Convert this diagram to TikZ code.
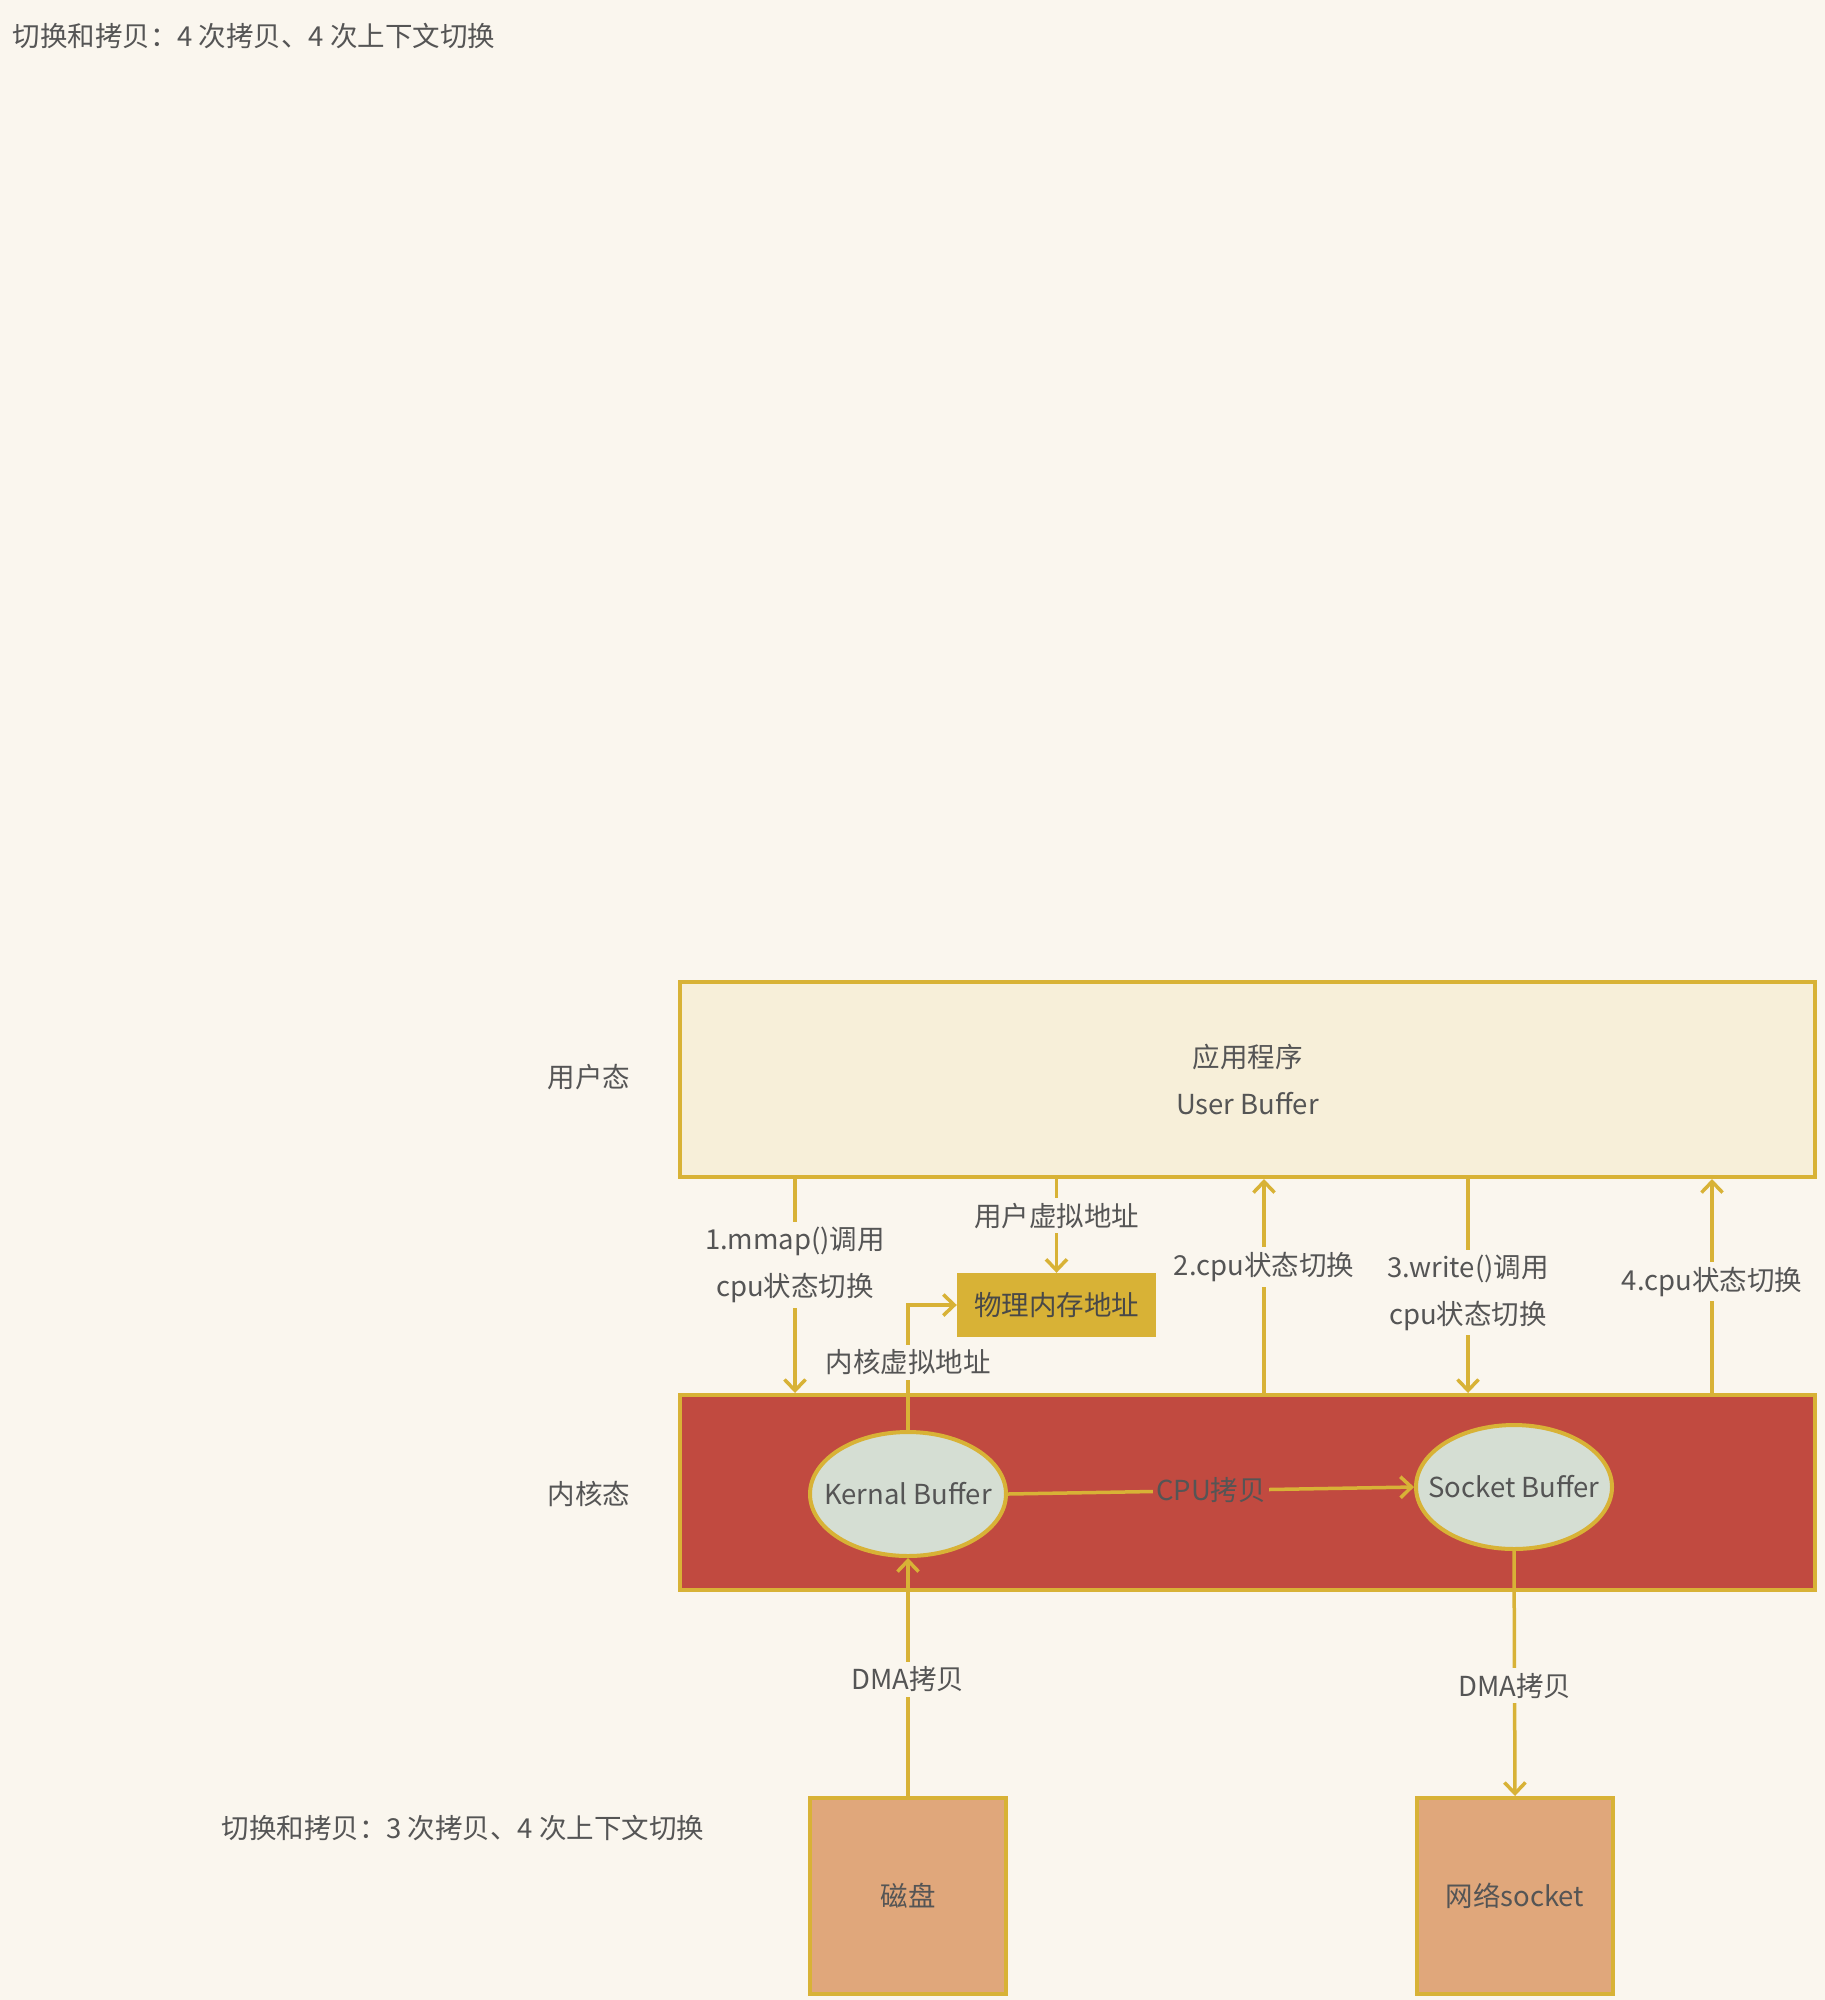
\documentclass[tikz,border=0pt]{standalone}
\usepackage{fontspec}
\setmainfont{Noto Sans CJK SC}
\usepackage{tikz}
\usetikzlibrary{arrows.meta,positioning,shapes.geometric}

\definecolor{bgcream}{HTML}{FAF6EE}
\definecolor{usrfill}{HTML}{F7EFD9}
\definecolor{gold}{HTML}{D8B236}
\definecolor{kernred}{HTML}{C14A40}
\definecolor{buffill}{HTML}{D5DED3}
\definecolor{devfill}{HTML}{E0A77B}
\definecolor{ink}{HTML}{555555}

\begin{document}
\begin{tikzpicture}[x=1pt,y=-1pt,>={Straight Barb[length=11pt,width=21pt]},node distance=214pt]
  \tikzstyle{every node}=[text=ink,font=\fontsize{27.5}{47}\selectfont,align=center]
  \tikzstyle{usrbox}=[draw=gold,line width=4pt,fill=usrfill,minimum width=1135pt,minimum height=195pt]
  \tikzstyle{kernbox}=[draw=gold,line width=4pt,fill=kernred,minimum width=1135pt,minimum height=195pt]
  \tikzstyle{buf}=[ellipse,draw=gold,line width=4pt,fill=buffill,minimum width=196pt,minimum height=124pt]
  \tikzstyle{devbox}=[draw=gold,line width=4pt,fill=devfill,minimum width=196pt,minimum height=196pt]
  \tikzstyle{physbox}=[fill=gold,minimum width=199pt,minimum height=64pt,text=ink!85!black]
  \tikzstyle{lbl}=[fill=bgcream,inner sep=5pt]
  \tikzstyle{conn}=[draw=gold,line width=3.5pt]

  \fill[bgcream] (0,0) rectangle (1825,2000);
  \useasboundingbox (0,0) rectangle (1825,2000);

  \node[anchor=west] (top) at (9,36) {切换和拷贝：4 次拷贝、4 次上下文切换};

  \node[usrbox] (user) at (1247.5,1079.5) {应用程序\\User Buffer};
  \node[kernbox, below=of user] (kern) {};
  \node (ulab) at (589,1077) {用户态};
  \node (klab) at (589,1494) {内核态};

  \node[buf] (kb) at (908,1494) {};
  \node (kbt) at (kb) {Kernal Buffer};
  \node[buf] (sb) at (1514,1487) {};
  \node (sbt) at (sb) {Socket Buffer};

  \node[physbox] (phys) at (1056.5,1305) {物理内存地址};

  \node[devbox] (disk) at (908,1896) {磁盘};
  \node[devbox] (net) at (1515,1896) {网络socket};
  \node[anchor=west] (note) at (218,1828) {切换和拷贝：3 次拷贝、4 次上下文切换};

  \coordinate (mm) at (795,0);
  \coordinate (c2) at (1264,0);
  \coordinate (wr) at (1468,0);
  \coordinate (c4) at (1712,0);

  % user <-> kernel switches
  \draw[conn,->] (user.south -| mm) -- node[lbl,pos=0.4] {1.mmap()调用\\cpu状态切换} (kern.north -| mm);
  \draw[conn,->] (kern.north -| c2) -- node[lbl,pos=0.59] {2.cpu状态切换} (user.south -| c2);
  \draw[conn,->] (user.south -| wr) -- node[lbl,pos=0.53] {3.write()调用\\cpu状态切换} (kern.north -| wr);
  \draw[conn,->] (kern.north -| c4) -- node[lbl,pos=0.52] {4.cpu状态切换} (user.south -| c4);

  % mapping
  \draw[conn,->] (user.south -| phys) -- node[lbl,pos=0.39] {用户虚拟地址} (phys.north);
  \draw[conn,->] (kb.north) |- node[lbl,pos=0.27] {内核虚拟地址} (phys.west);

  % copies
  \draw[conn,->] (kb.east) -- node[fill=kernred,inner sep=3pt] {CPU拷贝} (sb.west);
  \draw[conn,->] (disk.north) -- node[lbl,pos=0.49] {DMA拷贝} (kb.south);
  \draw[conn,->] (sb.south) -- node[lbl,pos=0.55] {DMA拷贝} (net.north);
\end{tikzpicture}
\end{document}
